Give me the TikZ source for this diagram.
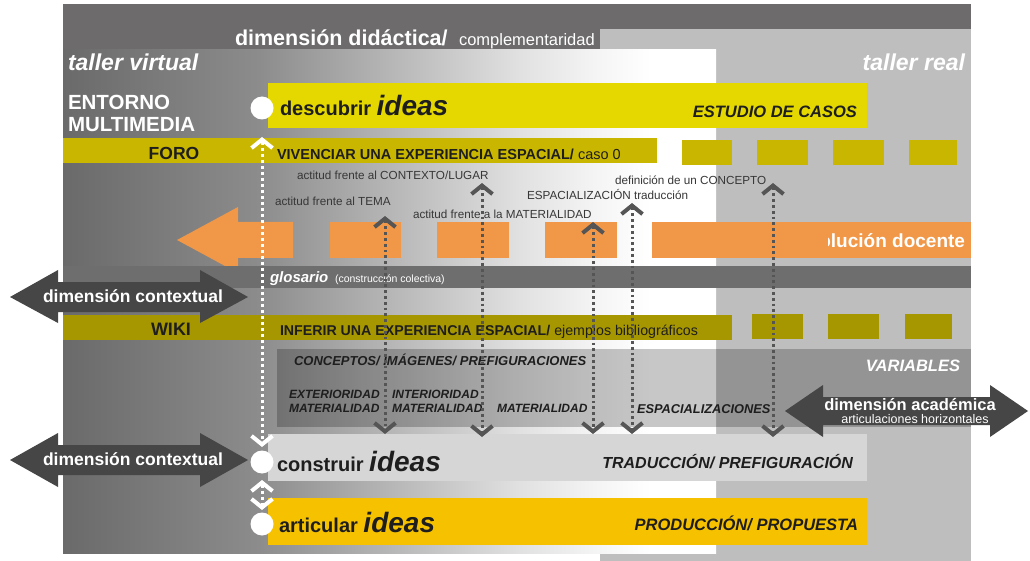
\documentclass[tikz,border=0pt]{standalone}
\usepackage{fontspec}
\setmainfont{Liberation Sans}
\usetikzlibrary{arrows.meta}

\definecolor{bandgray}{RGB}{109,107,107}
\definecolor{panelgray}{RGB}{190,190,190}
\definecolor{pA}{RGB}{106,106,106}
\definecolor{pB}{RGB}{140,140,140}
\definecolor{pC}{RGB}{186,186,186}
\definecolor{pD}{RGB}{225,225,225}
\definecolor{pE}{RGB}{245,245,245}
\definecolor{yelA}{RGB}{228,216,0}
\definecolor{yelB}{RGB}{201,182,0}
\definecolor{oliveB}{RGB}{166,150,0}
\definecolor{orangeA}{RGB}{241,151,72}
\definecolor{glossgray}{RGB}{110,110,110}
\definecolor{darkarrow}{RGB}{70,70,70}
\definecolor{lightbar}{RGB}{214,214,214}
\definecolor{goldbar}{RGB}{246,194,0}
\definecolor{ink}{RGB}{30,30,30}
\definecolor{labelink}{RGB}{55,55,55}
\definecolor{dotgray}{RGB}{85,85,85}

\pgfdeclarehorizontalshading{panelshade}{100bp}{color(0bp)=(pA); color(25bp)=(pA); color(40bp)=(pB); color(51bp)=(pC); color(60bp)=(pD); color(66bp)=(pE); color(70bp)=(white); color(100bp)=(white)}

\newcommand\fsz[1]{\fontsize{#1}{#1}\selectfont}

\tikzset{
  every node/.style={inner sep=0pt, outer sep=0pt},
  chev/.tip={Straight Barb[length=8.5pt,width=21pt,line width=4pt]},
  graydots/.style={draw=dotgray, line width=3pt, dash pattern=on 2.8pt off 3pt, chev-chev},
  whitedots/.style={draw=white, line width=3pt, dash pattern=on 3pt off 3pt, chev-chev},
  dotc/.style={circle, fill=white, minimum size=23pt, inner sep=0pt},
  lbl/.style={text=labelink, font=\fsz{11.7}, anchor=base west},
  var/.style={text=ink, font=\fsz{12}\bfseries\itshape, anchor=base west},
  wb/.style={text=white, font=\bfseries},
  darrow/.style={fill=darkarrow},
}

\begin{document}
\begin{tikzpicture}[x=1pt,y=-1pt]
\useasboundingbox (0,0) rectangle (1030,561);

% backgrounds
\fill[panelgray] (600,29) rectangle (971,561);
\fill[bandgray] (63,4) rectangle (971,29);
\fill[bandgray] (63,29) rectangle (600,50);
\shade[shading=panelshade] (63,50) rectangle (716,553);

% header texts
\node[wb, font=\fsz{21.5}\bfseries, anchor=base west] (dd) at (235,46) {dimensión didáctica/};
\node[text=white, font=\fsz{16.5}, anchor=base west] (comp) at (459,46) {complementaridad};
\node[text=white, font=\fsz{23}\bfseries\itshape, anchor=base west] (tv) at (68,71) {taller virtual};
\node[text=white, font=\fsz{23}\bfseries\itshape, anchor=base east] (tr) at (965,71) {taller real};
\node[text=white, font=\fsz{20.5}\bfseries, anchor=base west] (ent1) at (68,110) {ENTORNO};
\node[text=white, font=\fsz{20.5}\bfseries, anchor=base west] (ent2) at (68,132) {MULTIMEDIA};

% descubrir bar
\fill[yelA] (268,83) rectangle (867,128);
\node[text=ink, font=\fsz{20}\bfseries, anchor=base west] (desc) at (280,116) {descubrir {\fsz{28}\itshape ideas}};
\node[text=ink, font=\fsz{16.5}\bfseries\itshape, anchor=base east] (est) at (857,118) {ESTUDIO DE CASOS};

% FORO bar
\fill[yelB] (63,138) rectangle (657,163);
\foreach \a/\b in {682/732, 757/808, 833/884, 909/957}
  \fill[yelB] (\a,140) rectangle (\b,165);
\node[text=ink, font=\fsz{17.5}\bfseries, anchor=base] (foro) at (174,160) {FORO};
\node[text=ink, font=\fsz{14.5}, anchor=base west] (viv) at (277,160) {\bfseries VIVENCIAR UNA EXPERIENCIA ESPACIAL/\mdseries\ caso 0};

% orange evolution arrow
\fill[orangeA] (177,240) -- (238,207) -- (238,222) -- (293,222) -- (293,258) -- (238,258) -- (238,273) -- cycle;
\foreach \a/\b in {330/401, 437/509, 545/617}
  \fill[orangeA] (\a,222) rectangle (\b,258);
\fill[orangeA] (652,222) rectangle (971,258);
\begin{scope}
  \clip (828,215) rectangle (971,262);
  \node[text=white, font=\fsz{19}\bfseries, anchor=base east] (evo) at (965,248) {evolución docente};
\end{scope}

% glosario band
\fill[glossgray] (63,266) rectangle (971,288);
\node[text=white, font=\fsz{15}\bfseries\itshape, anchor=base west] (glos) at (270,282) {glosario};
\node[text=white, font=\fsz{10.5}, anchor=base west] (glos2) at (335,282) {(construcción colectiva)};

% WIKI bar
\fill[oliveB] (63,315) rectangle (732,340);
\foreach \a/\b in {752/803, 828/879, 905/952}
  \fill[oliveB] (\a,314) rectangle (\b,339);
\node[text=ink, font=\fsz{18}\bfseries, anchor=base] (wiki) at (171,335) {WIKI};
\node[text=ink, font=\fsz{14.2}, anchor=base west] (inf) at (280,335) {\bfseries INFERIR UNA EXPERIENCIA ESPACIAL/\mdseries\ ejemplos bibliográficos};

% variables panel
\fill[black, opacity=0.22] (277,349) rectangle (971,427);
\node[text=ink, font=\fsz{13}\bfseries\itshape, anchor=base west] (conc) at (294,365) {CONCEPTOS/ IMÁGENES/ PREFIGURACIONES};
\node[var] (ext1) at (289,398) {EXTERIORIDAD};
\node[var] (ext2) at (289,412) {MATERIALIDAD};
\node[var] (int1) at (392,398) {INTERIORIDAD};
\node[var] (int2) at (392,412) {MATERIALIDAD};
\node[var] (mat) at (497,412) {MATERIALIDAD};
\node[var, font=\fsz{12.8}\bfseries\itshape] (esp) at (637,413) {ESPACIALIZACIONES};
\node[text=white, font=\fsz{16.5}\bfseries\itshape, anchor=base east] (vars) at (960,371) {VARIABLES};

% construir / articular bars
\fill[lightbar] (268,434) rectangle (867,481);
\node[text=ink, font=\fsz{20}\bfseries, anchor=base west] (cons) at (277,471) {construir {\fsz{28}\itshape ideas}};
\node[text=ink, font=\fsz{16}\bfseries\itshape, anchor=base east] (trad) at (853,468) {TRADUCCIÓN/ PREFIGURACIÓN};
\fill[goldbar] (268,498) rectangle (867,545);
\node[text=ink, font=\fsz{20}\bfseries, anchor=base west] (art) at (279,532) {articular {\fsz{28}\itshape ideas}};
\node[text=ink, font=\fsz{16.5}\bfseries\itshape, anchor=base east] (prod) at (858,530) {PRODUCCIÓN/ PROPUESTA};

% gray labels
\node[lbl] (lctx) at (297,180) {actitud frente al CONTEXTO/LUGAR};
\node[lbl] (ltema) at (275,206) {actitud frente al TEMA};
\node[lbl] (lmat) at (413,219) {actitud frente a la MATERIALIDAD};
\node[lbl] (lesp) at (527,200) {ESPACIALIZACIÓN traducción};
\node[lbl] (ldef) at (615,185) {definición de un CONCEPTO};

% gray dotted double arrows
\coordinate (t1) at (385,216); \coordinate (b1) at (385,434);
\coordinate (t2) at (482,183); \coordinate (b2) at (482,437);
\coordinate (t3) at (593,222); \coordinate (b3) at (593,434);
\coordinate (t4) at (632,203); \coordinate (b4) at (632,434);
\coordinate (t5) at (773,183); \coordinate (b5) at (773,437);
\foreach \i in {1,...,5}
  \draw[graydots] (t\i) -- (b\i);

% circles and white dotted arrows
\node[dotc] (c1) at (262,108) {};
\node[dotc] (c2) at (262,462) {};
\node[dotc] (c3) at (262,524) {};
\coordinate (w1t) at (262,137); \coordinate (w1b) at (262,447);
\coordinate (w2t) at (262,480); \coordinate (w2b) at (262,510);
\draw[whitedots] (w1t) -- (w1b);
\draw[whitedots] (w2t) -- (w2b);

% dark double arrows
\fill[darrow] (10,297) -- (58,270) -- (58,282) -- (200,282) -- (200,270) -- (248,297) -- (200,323) -- (200,312) -- (58,312) -- (58,323) -- cycle;
\node[wb, font=\fsz{17.5}\bfseries, anchor=base] (dc1) at (133,302) {dimensión contextual};
\fill[darrow] (10,460) -- (58,433) -- (58,445) -- (200,445) -- (200,433) -- (248,460) -- (200,487) -- (200,475) -- (58,475) -- (58,487) -- cycle;
\node[wb, font=\fsz{17.5}\bfseries, anchor=base] (dc2) at (133,465) {dimensión contextual};
\fill[darrow] (785,411) -- (823,385) -- (823,397) -- (990,397) -- (990,385) -- (1028,411) -- (990,437) -- (990,425) -- (823,425) -- (823,437) -- cycle;
\node[wb, font=\fsz{16.5}\bfseries, anchor=base] (da) at (910,410) {dimensión académica};
\node[text=white, font=\fsz{12.5}, anchor=base] (da2) at (915,423) {articulaciones horizontales};
\end{tikzpicture}
\end{document}
